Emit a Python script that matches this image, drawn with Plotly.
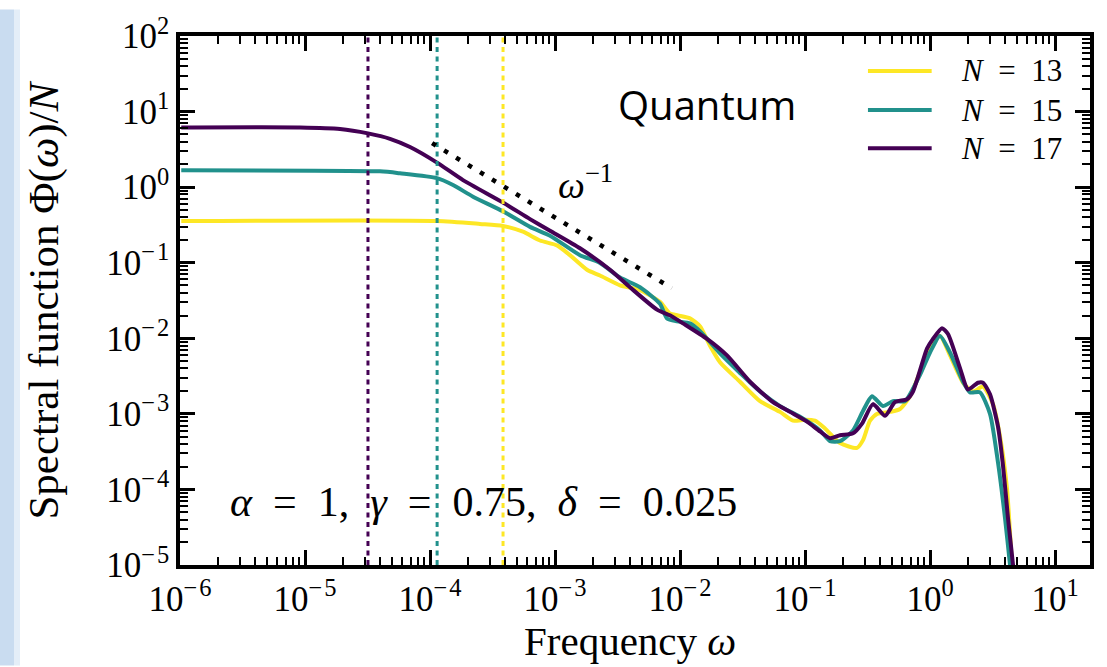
import numpy as np
import plotly.graph_objects as go

# Spectral function samples, stored as log10(omega) and log10(Phi/N)
log_w_17 = [-5.99, -5.04, -4.72, -4.496, -4.32, -4.16, -3.944, -3.736, -3.416,
            -3.20, -3.04, -2.80, -2.56, -2.40, -2.184, -2.064, -1.976, -1.784, -1.624,
            -1.44, -1.256, -1.12, -0.984, -0.88, -0.80, -0.72, -0.616, -0.544, -0.456,
            -0.36, -0.28, -0.184, -0.136, -0.024, 0.024, 0.096, 0.144, 0.24, 0.304,
            0.384, 0.424, 0.48, 0.544, 0.584, 0.624, 0.664, 0.72]
log_phi_17 = [0.789, 0.789, 0.769, 0.711, 0.640, 0.531, 0.325, 0.093, -0.204,
              -0.423, -0.577, -0.809, -1.093, -1.325, -1.621, -1.711, -1.802, -2.008, -2.227,
              -2.575, -2.845, -2.974, -3.103, -3.232, -3.322, -3.284, -3.258, -3.129, -2.871,
              -3.026, -2.845, -2.807, -2.704, -2.137, -2.008, -1.866, -1.943, -2.394, -2.678,
              -2.588, -2.588, -2.742, -3.168, -3.683, -4.379, -4.997, -5.96]

log_w_15 = [-5.99, -4.40, -4.24, -3.944, -3.816, -3.656, -3.416, -3.20, -3.04, -2.80,
            -2.64, -2.48, -2.32, -2.16, -2.104, -2.024, -1.92, -1.84, -1.68, -1.52,
            -1.36, -1.20, -1.04, -0.88, -0.80, -0.72, -0.616, -0.536, -0.464, -0.376,
            -0.296, -0.20, -0.08, 0.0, 0.08, 0.16, 0.264, 0.32, 0.40, 0.48,
            0.544, 0.60, 0.64, 0.696]
log_phi_15 = [0.222, 0.209, 0.183, 0.119, 0.028, -0.126, -0.320, -0.526, -0.642, -0.900,
              -1.003, -1.196, -1.325, -1.544, -1.737, -1.776, -1.802, -1.905, -2.201, -2.459,
              -2.704, -2.897, -3.039, -3.219, -3.361, -3.361, -3.219, -2.961, -2.768, -2.897,
              -2.832, -2.832, -2.485, -2.188, -1.969, -2.188, -2.575, -2.716, -2.716, -3.0,
              -3.644, -4.379, -4.997, -5.96]

log_w_13 = [-5.99, -3.944, -3.60, -3.416, -3.256, -3.12, -2.984, -2.88, -2.744, -2.64,
            -2.48, -2.32, -2.16, -2.08, -2.016, -1.92, -1.84, -1.76, -1.68, -1.52,
            -1.36, -1.20, -1.096, -1.0, -0.92, -0.84, -0.72, -0.584, -0.536, -0.48,
            -0.424, -0.32, -0.24, -0.16, -0.08, 0.0, 0.08, 0.16, 0.264, 0.344,
            0.424, 0.504, 0.56, 0.616, 0.656, 0.696]
log_phi_13 = [-0.448, -0.448, -0.487, -0.513, -0.590, -0.706, -0.771, -0.900, -1.093, -1.170,
              -1.299, -1.363, -1.518, -1.673, -1.698, -1.737, -1.840, -2.098, -2.317, -2.575,
              -2.832, -2.974, -3.090, -3.077, -3.090, -3.193, -3.387, -3.451, -3.348, -3.090,
              -3.0, -2.974, -2.936, -2.768, -2.446, -2.137, -1.969, -2.227, -2.588, -2.704,
              -2.639, -2.871, -3.296, -3.992, -4.997, -5.96]

system_sizes = [13, 15, 17]
line_colors = ["#fde725", "#21918c", "#440154"]
# characteristic frequency for each size (dotted verticals)
omega_star = [3.84e-4, 1.14e-4, 3.19e-5]
# omega^-1 guide segment
omega_guide = [1.04e-4, 8.6e-3]
phi_guide = [3.82, 0.046]

# decade tick positions (exponents) and their labels
x_decades = [-6, -5, -4, -3, -2, -1, 0, 1]
y_decades = [-5, -4, -3, -2, -1, 0, 1, 2]


def power_label(e):
    sign = "−\u200a" if e < 0 else ""
    return f"10<sup>{sign}{abs(e)}</sup>"


curves = {
    13: (log_w_13, log_phi_13),
    15: (log_w_15, log_phi_15),
    17: (log_w_17, log_phi_17),
}

SERIF = "Liberation Serif"
fig = go.Figure()

for n, col in zip(system_sizes, line_colors):
    lw, lp = curves[n]
    fig.add_trace(go.Scatter(
        x=10 ** np.array(lw), y=10 ** np.array(lp), mode="lines",
        line=dict(color=col, width=4, shape="spline", smoothing=0.6),
        name=f"N = {n}", showlegend=False, hoverinfo="skip"))

for n, col, w in zip(system_sizes, line_colors, omega_star):
    fig.add_trace(go.Scatter(
        x=[w, w], y=[1e-5, 1e2], mode="lines",
        line=dict(color=col, width=3, dash="5px,4.5px"),
        showlegend=False, hoverinfo="skip"))

fig.add_trace(go.Scatter(
    x=omega_guide, y=phi_guide, mode="lines",
    line=dict(color="black", width=4.5, dash="4.5px,9.5px"),
    showlegend=False, hoverinfo="skip"))

axis_style = dict(
    type="log", showline=True, linewidth=3.5, linecolor="black", mirror="allticks",
    ticks="inside", ticklen=15, tickwidth=2.5, tickcolor="black",
    showgrid=False, zeroline=False, ticklabeloverflow="allow",
    tickfont=dict(family=SERIF, size=35, color="black"),
    minor=dict(ticks="inside", ticklen=8, tickwidth=2, tickcolor="black",
               dtick="D1", showgrid=False),
)
fig.update_xaxes(range=[-6, 1.28], tickmode="array",
                 tickvals=[10.0 ** e for e in x_decades],
                 ticktext=[power_label(e) for e in x_decades], **axis_style)
fig.update_yaxes(range=[-5, 2], tickmode="array",
                 tickvals=[10.0 ** e for e in y_decades],
                 ticktext=[power_label(e) for e in y_decades], **axis_style)

NB = "\u00a0"
annotations = [
    dict(text="Spectral function Φ(<i>ω</i>)/<i>N</i>", x=-0.1505, y=0.5, textangle=-90,
         font=dict(family=SERIF, size=43, color="black"), xanchor="center", yanchor="middle"),
    dict(text="Frequency <i>ω</i>", x=0.4945, y=-0.143,
         font=dict(family=SERIF, size=41, color="black"), xanchor="center", yanchor="middle"),
    dict(text="Quantum", x=0.579, y=0.871,
         font=dict(family="Open Sans", size=40, color="black"), xanchor="center", yanchor="middle"),
    dict(text="<i>ω</i><sup>−1</sup>", x=0.413, y=0.724,
         font=dict(family=SERIF, size=38, color="black"), xanchor="left", yanchor="middle"),
    dict(text=(f"<i>α</i>{NB*2}={NB*2}1,{NB*2}<i>γ</i>{NB*2}={NB*2}0.75,"
               f"{NB*2}<i>δ</i>{NB*2}={NB*2}0.025"),
         x=0.0527, y=0.1197,
         font=dict(family=SERIF, size=42, color="black"), xanchor="left", yanchor="middle"),
]

# legend drawn as line samples plus labels
legend_y = [0.934, 0.860, 0.788]
shapes = [
    dict(type="rect", xref="paper", yref="paper", x0=-0.1978, x1=-0.1824, y0=-0.19, y1=1.05,
         fillcolor="#c9dcf0", line=dict(width=0), layer="below"),
    dict(type="rect", xref="paper", yref="paper", x0=-0.1824, x1=-0.1758, y0=-0.19, y1=1.05,
         fillcolor="#e4eef8", line=dict(width=0), layer="below"),
]
for n, col, ly in zip(system_sizes, line_colors, legend_y):
    shapes.append(dict(type="line", xref="paper", yref="paper", x0=0.756, x1=0.826,
                       y0=ly, y1=ly, line=dict(color=col, width=4)))
    annotations.append(dict(text=f"<i>N</i>{NB*2}={NB*2}{n}", x=0.856, y=ly,
                            font=dict(family=SERIF, size=31, color="black"),
                            xanchor="left", yanchor="middle"))

for a in annotations:
    a.update(xref="paper", yref="paper", showarrow=False)

fig.update_layout(
    width=1107, height=667,
    margin=dict(l=180, r=17, t=22, b=102),
    paper_bgcolor="white", plot_bgcolor="white",
    showlegend=False, annotations=annotations, shapes=shapes,
)

fig.write_html("out.html")
